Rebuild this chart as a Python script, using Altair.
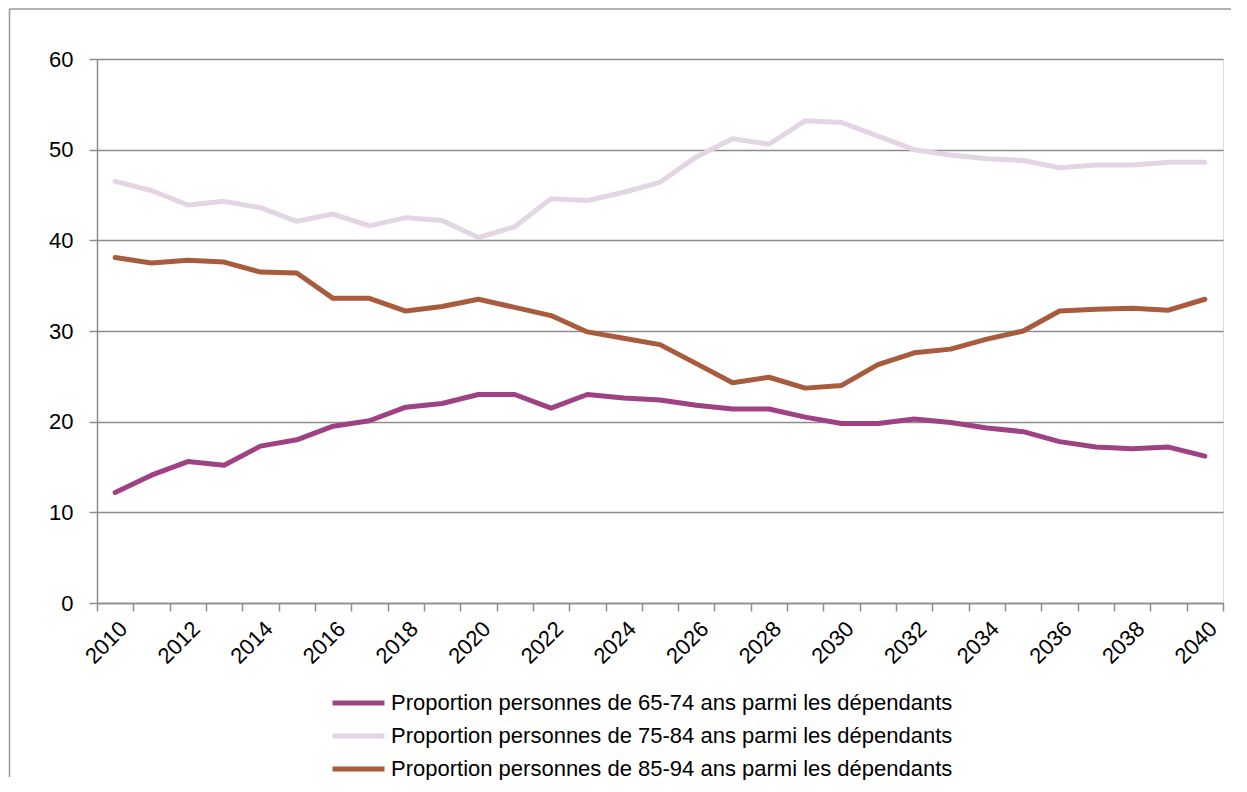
import altair as alt
import pandas as pd

years = list(range(2010, 2041))
series_names = [
    "Proportion personnes de 65-74 ans parmi les dépendants",
    "Proportion personnes de 75-84 ans parmi les dépendants",
    "Proportion personnes de 85-94 ans parmi les dépendants",
]
p6574 = [12.2, 14.1, 15.6, 15.2, 17.3, 18.0, 19.5, 20.1, 21.6, 22.0, 23.0,
         23.0, 21.5, 23.0, 22.6, 22.4, 21.8, 21.4, 21.4, 20.5, 19.8,
         19.8, 20.3, 19.9, 19.3, 18.9, 17.8, 17.2, 17.0, 17.2, 16.2]
p7584 = [46.5, 45.5, 43.9, 44.3, 43.6, 42.1, 42.9, 41.6, 42.5, 42.2, 40.3,
         41.5, 44.6, 44.4, 45.3, 46.4, 49.2, 51.2, 50.6, 53.2, 53.0,
         51.5, 50.0, 49.4, 49.0, 48.8, 48.0, 48.3, 48.3, 48.6, 48.6]
p8594 = [38.1, 37.5, 37.8, 37.6, 36.5, 36.4, 33.6, 33.6, 32.2, 32.7, 33.5,
         32.6, 31.7, 29.9, 29.2, 28.5, 26.4, 24.3, 24.9, 23.7, 24.0,
         26.3, 27.6, 28.0, 29.1, 30.0, 32.2, 32.4, 32.5, 32.3, 33.5]
colors = ["#9E4284", "#E3D5E3", "#A95B3E"]
y_ticks = [0, 10, 20, 30, 40, 50, 60]
x_boundaries = [y - 0.5 for y in years] + [years[-1] + 0.5]

rows = []
for name, vals in zip(series_names, [p6574, p7584, p8594]):
    for yr, v in zip(years, vals):
        rows.append({"year": yr, "value": v, "series": name})
df = pd.DataFrame(rows)

FONT = "Liberation Sans"
GRID = "#8c8c8c"
W, H = 1126, 544

lines = alt.Chart(df).mark_line(strokeWidth=5, strokeCap="round", strokeJoin="round").encode(
    x=alt.X("year:Q",
            scale=alt.Scale(domain=[x_boundaries[0], x_boundaries[-1]], nice=False, zero=False),
            axis=alt.Axis(values=x_boundaries, title=None, grid=False,
                          labelExpr="(datum.value - 0.5) % 2 == 0 ? format(datum.value - 0.5, 'd') : ''",
                          labelAngle=315, labelAlign="right", labelBaseline="middle",
                          labelOffset=-10, labelPadding=14, labelOverlap=False, labelFlush=False,
                          labelBound=False,
                          tickSize=8, tickColor=GRID, tickWidth=1.5,
                          domainColor=GRID, domainWidth=1.5,
                          labelFont=FONT, labelFontSize=22, labelColor="#000000")),
    y=alt.Y("value:Q",
            scale=alt.Scale(domain=[0, 60], nice=False),
            axis=alt.Axis(values=y_ticks, title=None, grid=True, gridColor=GRID, gridWidth=1.5,
                          tickSize=8, tickColor=GRID, tickWidth=1.5,
                          domainColor=GRID, domainWidth=1.5, labelPadding=16,
                          labelFont=FONT, labelFontSize=22, labelColor="#000000")),
    color=alt.Color("series:N",
                    scale=alt.Scale(domain=series_names, range=colors),
                    legend=alt.Legend(orient="none", legendX=233, legendY=633,
                                      direction="vertical", title=None,
                                      symbolType="M-1,0L1,0", symbolSize=2704,
                                      symbolStrokeWidth=5, clipHeight=22,
                                      rowPadding=11, labelOffset=4, labelLimit=0,
                                      labelFont=FONT, labelFontSize=22,
                                      labelColor="#000000")),
)

frame_df = pd.DataFrame({"k": [0]})
frame_left = alt.Chart(frame_df).mark_rule(color="#999999", strokeWidth=1.5).encode(
    x=alt.value(-87.5), y=alt.value(-50), y2=alt.value(718))
frame_top = alt.Chart(frame_df).mark_rule(color="#999999", strokeWidth=1.5).encode(
    x=alt.value(-87.5), x2=alt.value(1134), y=alt.value(-50))

chart = alt.layer(frame_left, frame_top, lines).properties(
    width=W, height=H, padding=0
).configure_view(stroke=None).configure(background="white")

chart.save("out.html", embed_options={"renderer": "svg", "actions": False})
